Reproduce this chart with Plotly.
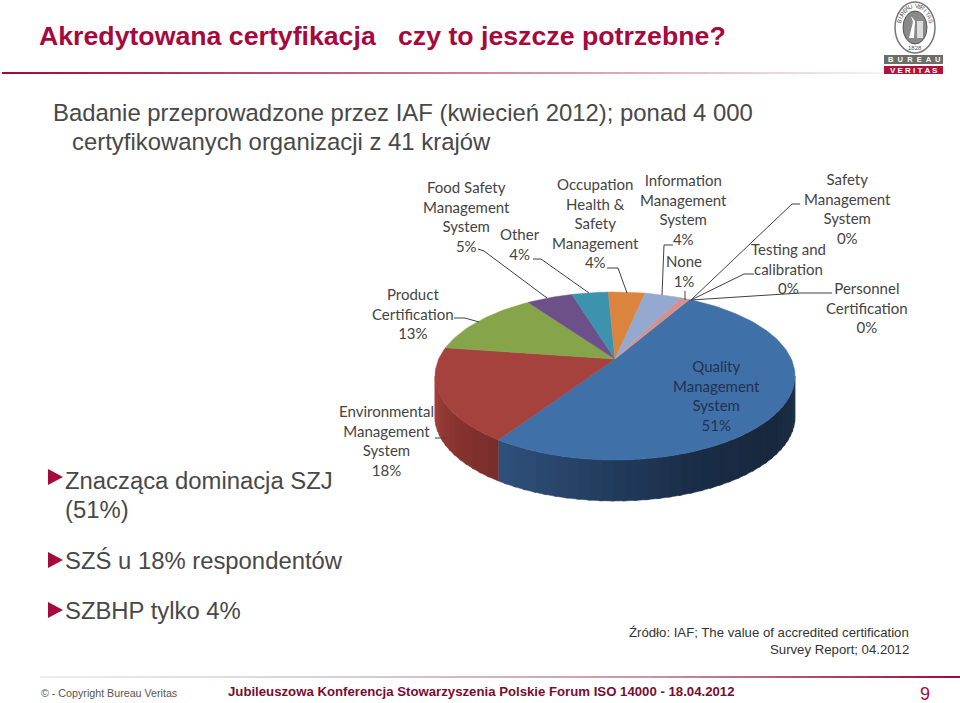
import math
import plotly.graph_objects as go

# ---- data ----
slice_names = ["Quality Management System", "Environmental Management System", "Product Certification",
               "Food Safety Management System", "Other", "Occupation Health & Safety Management",
               "Information Management System", "None"]
slice_values = [51, 18, 13, 5, 4, 4, 4, 1]
slice_colors = ["#4070a8", "#a5423e", "#86a44a", "#6c5089", "#3d93ae", "#db843d", "#93a9cf", "#d19392"]
START_DEG = 29.8

label_texts = ["Food Safety<br>Management<br>System<br>5%", "Other<br>4%",
               "Occupation<br>Health &<br>Safety<br>Management<br>4%",
               "Information<br>Management<br>System<br>4%", "None<br>1%",
               "Safety<br>Management<br>System<br>0%", "Testing and<br>calibration<br>0%",
               "Personnel<br>Certification<br>0%", "Product<br>Certification<br>13%",
               "Environmental<br>Management<br>System<br>18%", "Quality<br>Management<br>System<br>51%"]
label_x = [466, 520, 595, 683, 684, 847, 788, 867, 413, 386, 716]
label_y = [216, 244, 223, 209, 271, 208, 268, 307, 313, 440, 395]

title_text = "Akredytowana certyfikacja   czy to jeszcze potrzebne?"
bullets = ["Znacząca dominacja SZJ", "SZŚ u 18% respondentów", "SZBHP tylko 4%"]

# ---- disc projection ----
CX, CY, A, B, K, DEPTH = 615, 359, 80.56, 176.3, 0.2024, 41
RED = "#a6093d"


def rim(deg):
    t = math.radians(deg)
    x, y = math.sin(t), math.cos(t)
    d = 1 + K * y
    return CX + B * x / d, CY - A * y / d


def mix(c1, c2, f):
    return "rgb(%d,%d,%d)" % tuple(c1[i] + (c2[i] - c1[i]) * f for i in range(3))


fig = go.Figure()


def wall(d0, d1, stops):
    n = int((d1 - d0) / 3)
    for i in range(n):
        a = d0 + (d1 - d0) * i / n
        b = min(d1, d0 + (d1 - d0) * (i + 1.3) / n)
        pts = [rim(a + (b - a) * j / 4) for j in range(5)]
        xs = [p[0] for p in pts] + [p[0] for p in pts[::-1]] + [pts[0][0]]
        ys = [p[1] for p in pts] + [p[1] + DEPTH for p in pts[::-1]] + [pts[0][1]]
        f = (i / max(n - 1, 1)) * (len(stops) - 1)
        s = min(int(f), len(stops) - 2)
        col = mix(stops[s], stops[s + 1], f - s)
        fig.add_trace(go.Scatter(x=xs, y=ys, mode="lines", fill="toself", fillcolor=col,
                                 line=dict(color=col, width=0.5), hoverinfo="skip", showlegend=False))


blue_end = START_DEG + slice_values[0] * 3.6
right_tan = 90 + math.degrees(math.asin(K))
left_tan = 270 - math.degrees(math.asin(K))
wall(right_tan, blue_end, [(30, 50, 75), (24, 40, 62), (26, 45, 70), (36, 62, 96), (48, 80, 124)])
wall(blue_end, left_tan, [(122, 46, 43), (140, 54, 50), (165, 65, 61)])

# slices
ang = START_DEG
for name, val, col in zip(slice_names, slice_values, slice_colors):
    span = val * 3.6
    n = max(int(span / 1.5), 3)
    pts = [rim(ang + span * j / n) for j in range(n + 1)]
    xs = [CX] + [p[0] for p in pts] + [CX]
    ys = [CY] + [p[1] for p in pts] + [CY]
    fig.add_trace(go.Scatter(x=xs, y=ys, mode="lines", fill="toself", fillcolor=col, name=name,
                             line=dict(color=col, width=0.5), text=[f"{name}: {val}%"] * len(xs),
                             hoverinfo="text", showlegend=False))
    ang += span

# leader lines
leaders = [
    ([478, 484, 547], [249, 251, 298]), ([533, 541, 589], [259, 259, 293]),
    ([607, 618, 627], [268, 268, 293]), ([673, 664, 662], [245, 245, 295]),
    ([685, 685], [291, 300]), ([800, 792, 691], [204, 204, 300]),
    ([754, 744, 691], [274, 274, 300]), ([832, 800, 691], [293, 293, 300]),
    ([454, 465, 479], [318, 318, 322]), ([435, 446], [438, 438]),
]
for lx, ly in leaders:
    fig.add_trace(go.Scatter(x=lx, y=ly, mode="lines", line=dict(color="#404040", width=1),
                             hoverinfo="skip", showlegend=False))

shapes = []


def grad_rule(x0, x1, y, stops, w):
    n = 60
    for i in range(n):
        f = i / (n - 1) * (len(stops) - 1)
        s = min(int(f), len(stops) - 2)
        shapes.append(dict(type="line", xref="x", yref="y", x0=round(x0 + (x1 - x0) * i / n),
                           x1=round(x0 + (x1 - x0) * (i + 1) / n), y0=y, y1=y,
                           line=dict(color=mix(stops[s], stops[s + 1], f - s), width=w)))


grad_rule(2, 885, 73, [(166, 9, 61), (205, 120, 150), (250, 240, 243)], 2)
grad_rule(40, 960, 677, [(238, 238, 238), (222, 205, 208), (200, 150, 165), (166, 9, 61)], 2)

for y in [477, 560, 610]:
    shapes.append(dict(type="path", xref="x", yref="y",
                       path=f"M48 {y-8} L63 {y} L48 {y+8} Z", fillcolor=RED, line=dict(width=0)))

# logo
shapes += [
    dict(type="circle", xref="x", yref="y", x0=895, x1=935, y0=2, y1=53, fillcolor="#ffffff",
         line=dict(color="#777777", width=1.5)),
    dict(type="circle", xref="x", yref="y", x0=903, x1=927, y0=11, y1=44, fillcolor="#8a8a8a",
         line=dict(color="#555555", width=1)),
    dict(type="path", xref="x", yref="y", path="M909 38 L913 22 L911 16 L915 21 L914 38 Z",
         fillcolor="#ffffff", line=dict(width=0)),
    dict(type="rect", xref="x", yref="y", x0=917, x1=923, y0=21, y1=38, fillcolor="#dddddd", line=dict(width=0)),
    dict(type="rect", xref="x", yref="y", x0=884, x1=943, y0=55, y1=64, fillcolor="#6d6d68", line=dict(width=0)),
    dict(type="rect", xref="x", yref="y", x0=884, x1=943, y0=66, y1=74, fillcolor="#b0123b", line=dict(width=0)),
]

ann = []


def txt(s, x, y, size, color="#484848", anchor="left", font="Liberation Sans", **kw):
    ann.append(dict(text=s, x=x, y=y, xref="x", yref="y", showarrow=False, xanchor=anchor, yanchor="middle",
                    align=anchor, font=dict(family=font, size=size, color=color), **kw))


txt("<b>" + title_text + "</b>", 37, 36, 26.7, RED)
txt("Badanie przeprowadzone przez IAF (kwiecień 2012); ponad 4 000", 51, 112, 23.9)
txt("certyfikowanych organizacji z 41 krajów", 70, 141, 23.9)
txt(bullets[0], 63, 480, 23.85)
txt("(51%)", 63, 509, 23.85)
txt(bullets[1], 63, 560, 23.85)
txt(bullets[2], 63, 610, 23.85)
txt("Źródło: IAF; The value of accredited certification", 911, 632, 13.2, "#333333", "right")
txt("Survey Report; 04.2012", 911, 649, 13.2, "#333333", "right")
txt("© - Copyright Bureau Veritas", 39, 693, 10.7, "#555555")
txt("<b>Jubileuszowa Konferencja Stowarzyszenia Polskie Forum ISO 14000 - 18.04.2012</b>", 226, 691, 13.2, "#7a0c2e")
txt("9", 925, 694, 18, RED, "center")

for s, x, y in zip(label_texts, label_x, label_y):
    txt(s, x, y, 15, "#1f3350" if s.startswith("Quality") else "#444444", "center", "Lato")

# logo lettering
ring = "BUREAU VERITAS"
for i, ch in enumerate(ring):
    d = -72 + 144 * i / (len(ring) - 1)
    t = math.radians(d)
    txt(ch, 915 + 16.5 * math.sin(t), 27.5 - 21.5 * math.cos(t), 6, "#555555", "center", textangle=d)
txt("1828", 915, 48, 6, "#555555", "center")
txt("<b>B  U  R  E  A  U</b>", 913.5, 59.5, 7.5, "#ffffff", "center")
txt("<b>V E R I T A S</b>", 913.5, 70, 8, "#ffffff", "center")

fig.update_layout(
    width=960, height=703, margin=dict(l=0, r=0, t=0, b=0), paper_bgcolor="white", plot_bgcolor="white",
    xaxis=dict(range=[0, 960], visible=False, fixedrange=True),
    yaxis=dict(range=[703, 0], visible=False, fixedrange=True),
    shapes=shapes, annotations=ann, showlegend=False,
)
fig.write_html("out.html", config=dict(displayModeBar=False),
               post_script="document.body.style.margin='0';document.body.style.overflow='hidden';")
